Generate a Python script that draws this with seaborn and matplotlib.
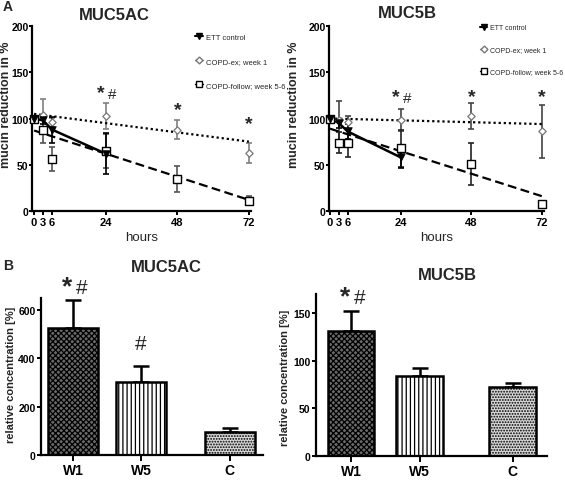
import matplotlib
matplotlib.use("Agg")
import matplotlib.pyplot as plt
import seaborn as sns
import numpy as np
from matplotlib.lines import Line2D

sns.set_theme(style="ticks")
plt.rcParams['font.family'] = ['Liberation Sans', 'DejaVu Sans']
plt.rcParams['font.weight'] = 'bold'
plt.rcParams['hatch.linewidth'] = 0.9

# ---------------- data ----------------
hours = [0, 3, 6, 24, 48, 72]
ett_hours = [0, 3, 6, 24]
fit_hours = [0, 72]

# MUC5AC time course
ac_ett_y = [100, 98, 88, 62]
ac_ett_err = [2, 4, 14, 22]
ac_ex_y = [100, 104, 96, 103, 88, 63]
ac_ex_err = [2, 17, 5, 14, 10, 11]
ac_fol_y = [100, 88, 56, 65, 35, 11]
ac_fol_err = [2, 14, 13, 18, 14, 5]
ac_ex_fit = [105, 75]
ac_fol_fit = [87, 12]

# MUC5B time course
b_ett_y = [100, 95, 86, 58]
b_ett_err = [2, 5, 8, 12]
b_ex_y = [100, 98, 96, 98, 103, 86]
b_ex_err = [2, 21, 7, 12, 14, 29]
b_fol_y = [100, 74, 73, 68, 51, 8]
b_fol_err = [2, 11, 15, 20, 23, 2]
b_ex_fit = [100, 94]
b_fol_fit = [89, 16]

legend_labels = ["ETT control", "COPD-ex; week 1", "COPD-follow; week 5-6"]

# relative concentration bars
groups = ["W1", "W5", "C"]
ac_conc = [527, 302, 96]
ac_conc_err = [114, 65, 15]
b_conc = [131, 84, 72]
b_conc_err = [21, 8, 5]

W, H = 565, 481
fig = plt.figure(figsize=(W / 100, H / 100), dpi=100)


def box(l, t, r, b):
    return [l / W, 1 - b / H, (r - l) / W, (b - t) / H]


def style_axes(ax, labelsize=8):
    sns.despine(ax=ax)
    for s in ("left", "bottom"):
        ax.spines[s].set_linewidth(1.6)
        ax.spines[s].set_color("black")
    ax.tick_params(axis="both", direction="out", length=3, width=1.4,
                   colors="black", labelsize=labelsize, pad=1)
    ax.set_facecolor("none")


def sig(ax, x, y, star_size, hash_size, with_hash=True, dx=(-3.5, 5)):
    ax.annotate("*", (x, y), xytext=(dx[0] if with_hash else 0, 0), textcoords="offset points",
                ha="center", va="center", fontsize=star_size, fontweight="bold",
                annotation_clip=False)
    if with_hash:
        ax.annotate("#", (x, y), xytext=(dx[1], -1), textcoords="offset points",
                    ha="center", va="center", fontsize=hash_size, fontweight="normal",
                    annotation_clip=False)


def time_panel(ax, ett_y, ett_err, ex_y, ex_err, fol_y, fol_err, ex_fit, fol_fit,
               ex_ecol, fol_ecol, xlim):
    ax.errorbar(hours, ex_y, yerr=ex_err, fmt="none", ecolor=ex_ecol, elinewidth=1.2,
                capsize=2.5, capthick=1.2, clip_on=False, zorder=2)
    ax.errorbar(hours, fol_y, yerr=fol_err, fmt="none", ecolor=fol_ecol, elinewidth=1.2,
                capsize=2.5, capthick=1.2, clip_on=False, zorder=2)
    ax.errorbar(ett_hours, ett_y, yerr=ett_err, fmt="none", ecolor="black", elinewidth=1.2,
                capsize=2.5, capthick=1.2, clip_on=False, zorder=2)
    sns.lineplot(x=fit_hours, y=ex_fit, ax=ax, color="black", lw=1.6,
                 linestyle=(0, (1, 1.3)), zorder=3)
    sns.lineplot(x=fit_hours, y=fol_fit, ax=ax, color="black", lw=1.6,
                 linestyle=(0, (4, 2)), zorder=3)
    sns.lineplot(x=ett_hours, y=ett_y, ax=ax, color="black", lw=1.8, zorder=3)
    sns.scatterplot(x=hours, y=ex_y, ax=ax, marker="D", s=14, facecolor="white",
                    edgecolor="#777777", linewidth=0.9, zorder=4, clip_on=False)
    sns.scatterplot(x=hours, y=fol_y, ax=ax, marker="s", s=34, facecolor="white",
                    edgecolor="black", linewidth=1.0, zorder=4, clip_on=False)
    sns.scatterplot(x=ett_hours, y=ett_y, ax=ax, marker="v", s=30, color="black",
                    edgecolor="black", linewidth=0.5, zorder=5, clip_on=False)
    ax.set_xlim(*xlim)
    ax.set_ylim(0, 200)
    ax.set_xticks(hours)
    ax.set_yticks([0, 50, 100, 150, 200])
    ax.set_xlabel("hours", fontsize=9.5, fontweight="normal", labelpad=3)
    ax.set_ylabel("")
    style_axes(ax, labelsize=8)
    ax.tick_params(axis="y", length=2, pad=0.5, labelsize=7.5)


def legend_handles():
    return [
        Line2D([], [], color="black", lw=1.5, marker="v", markersize=5),
        Line2D([], [], color="#777777", lw=1.0, marker="D", markersize=3.5,
               markerfacecolor="white"),
        Line2D([], [], color="black", lw=1.0, marker="s", markersize=5,
               markerfacecolor="white"),
    ]


def add_legend(ax, anchor, spacing, size):
    return ax.legend(legend_handles(), legend_labels, loc="upper left", bbox_to_anchor=anchor,
                     frameon=False, handlelength=1.0, handletextpad=0.4,
                     labelspacing=spacing, borderaxespad=0,
                     prop=dict(size=size, weight="normal"))


# ---------- Panel A left ----------
axA1 = fig.add_axes(box(32, 27, 251, 212))
time_panel(axA1, ac_ett_y, ac_ett_err, ac_ex_y, ac_ex_err, ac_fol_y, ac_fol_err,
           ac_ex_fit, ac_fol_fit, "#808080", "#555555", (-0.7, 72.7))
add_legend(axA1, (0.73, 0.975), 2.15, 5.5)
sig(axA1, 24, 128, 14, 11)
sig(axA1, 48, 110, 14, 11, with_hash=False)
sig(axA1, 72, 95, 14, 11, with_hash=False)

# ---------- Panel A right ----------
axA2 = fig.add_axes(box(329, 27, 544, 212))
time_panel(axA2, b_ett_y, b_ett_err, b_ex_y, b_ex_err, b_fol_y, b_fol_err,
           b_ex_fit, b_fol_fit, "#444444", "#222222", (-0.34, 72.7))
add_legend(axA2, (0.69, 1.025), 2.15, 5.0)
sig(axA2, 24, 124, 14, 11)
sig(axA2, 48, 124, 14, 11, with_hash=False)
sig(axA2, 72, 124, 14, 11, with_hash=False)

fig.text(114 / W, 1 - 15 / H, "MUC5AC", ha="center", va="center", fontsize=12)
fig.text(407 / W, 1 - 14 / H, "MUC5B", ha="center", va="center", fontsize=12)
fig.text(6 / W, 1 - 105 / H, "mucin reduction in %", ha="center", va="center",
         rotation=90, fontsize=9)
fig.text(294 / W, 1 - 105 / H, "mucin reduction in %", ha="center", va="center",
         rotation=90, fontsize=9)
fig.text(8 / W, 1 - 7 / H, "A", ha="center", va="center", fontsize=10)
fig.text(8 / W, 1 - 266 / H, "B", ha="center", va="center", fontsize=10)


# ---------- Panel B ----------
def bar_panel(ax, vals, errs, pos, width, ylim, yticks):
    sns.barplot(x=pos, y=vals, ax=ax, native_scale=True, width=width, color="white",
                edgecolor="black", linewidth=1.8, errorbar=None, zorder=2)
    hatch_styles = [("#6a6a6a", "xxxxxx"), ("white", "||||"), ("#d8d8d8", "......")]
    for p, (fc, h) in zip(ax.patches, hatch_styles):
        p.set_facecolor(fc)
        p.set_hatch(h)
    ax.errorbar(pos, vals, yerr=[np.zeros(len(vals)), errs], fmt="none", ecolor="black",
                elinewidth=1.8, capsize=6, capthick=1.8, zorder=1)
    ax.set_ylim(*ylim)
    ax.set_yticks(yticks)
    ax.set_xticks(pos)
    ax.set_xticklabels(groups)
    ax.set_xlabel("")
    ax.set_ylabel("")
    style_axes(ax, labelsize=7.5)
    ax.tick_params(axis="x", length=4, pad=2, labelsize=10)


axB1 = fig.add_axes(box(41, 299, 263, 456))
posB1 = [0, 1, 2.3]
bar_panel(axB1, ac_conc, ac_conc_err, posB1, 0.735, (0, 650), [0, 200, 400, 600])
axB1.set_xlim(-0.47, 2.79)
sig(axB1, 0, 700, 19, 15, dx=(-4.5, 6))
axB1.text(1, 463, "#", ha="center", va="center", fontsize=15, fontweight="normal")

axB2 = fig.add_axes(box(316, 295, 547, 457))
posB2 = [0, 1, 2.36]
bar_panel(axB2, b_conc, b_conc_err, posB2, 0.68, (0, 170), [0, 50, 100, 150])
axB2.set_xlim(-0.51, 2.86)
sig(axB2, 0, 168, 19, 15, dx=(-4.5, 6))

fig.text(166 / W, 1 - 268 / H, "MUC5AC", ha="center", va="center", fontsize=12)
fig.text(447 / W, 1 - 276 / H, "MUC5B", ha="center", va="center", fontsize=12)
fig.text(11 / W, 1 - 375 / H, "relative concentration [%]", ha="center", va="center",
         rotation=90, fontsize=8)
fig.text(285 / W, 1 - 378 / H, "relative concentration [%]", ha="center", va="center",
         rotation=90, fontsize=8)

fig.savefig("out.png", dpi=100)
